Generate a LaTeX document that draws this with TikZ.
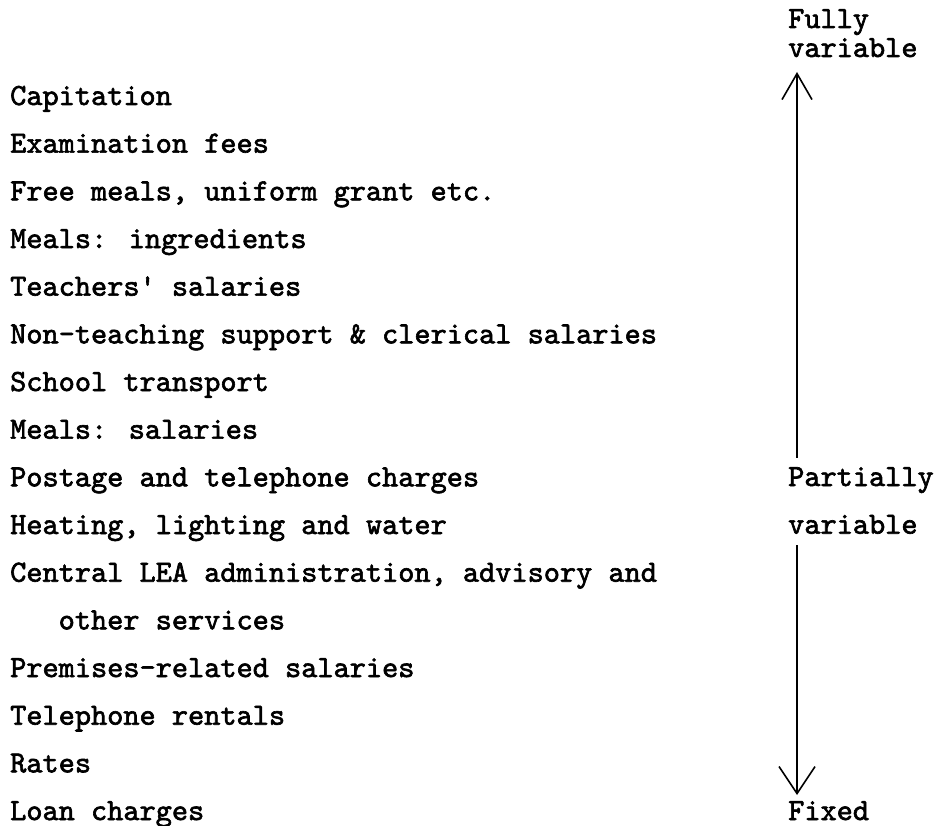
\documentclass[tikz,border=0pt]{standalone}
\usepackage{fontspec}
\newfontface\typewriter{lmmono10-regular.otf}[FakeBold=2]
\usetikzlibrary{arrows.meta}
\begin{document}
\begin{tikzpicture}[x=1pt,y=-1pt,
  item/.style={anchor=base west,inner sep=0pt,font=\typewriter\fontsize{30.8}{30.8}\selectfont},
  rangelabel/.style={anchor=base west,inner sep=0pt,font=\typewriter\fontsize{30.8}{30.8}\selectfont},
  axis/.style={line width=1.6pt,-{Straight Barb[length=26pt,width=30pt,line width=1.6pt]}},
  axiswide/.style={line width=1.6pt,-{Straight Barb[length=27pt,width=36pt,line width=1.6pt]}}]
\useasboundingbox (0,0) rectangle (938,826);
% cost items, from most variable to fixed
\foreach \txt [count=\i from 0] in {Capitation,Examination fees,{Free meals, uniform grant etc.},Meals: ingredients,Teachers\symbol{39} salaries,Non-teaching support \& clerical salaries,School transport,Meals: salaries,Postage and telephone charges,{Heating, lighting and water},{Central LEA administration, advisory and},\hspace{48.5pt}other services,Premises-related salaries,Telephone rentals,Rates,Loan charges}
  \node[item] (c\i) at (10,{105+47.67*\i}) {\txt};
% variability scale
\node[rangelabel] (fully) at (788,28) {Fully};
\node[rangelabel] (fvar) at (788,57) {variable};
\node[rangelabel] (partly) at (788,486) {Partially};
\node[rangelabel] (pvar) at (788,533.7) {variable};
\node[rangelabel] (fixed) at (788,820) {Fixed};
\coordinate (uptop) at (797,72);
\coordinate (upfoot) at (797,458);
\coordinate (downtop) at (797,545);
\coordinate (downtip) at (797,795);
\draw[axis] (upfoot) -- (uptop);
\draw[axiswide] (downtop) -- (downtip);
\end{tikzpicture}
\end{document}
